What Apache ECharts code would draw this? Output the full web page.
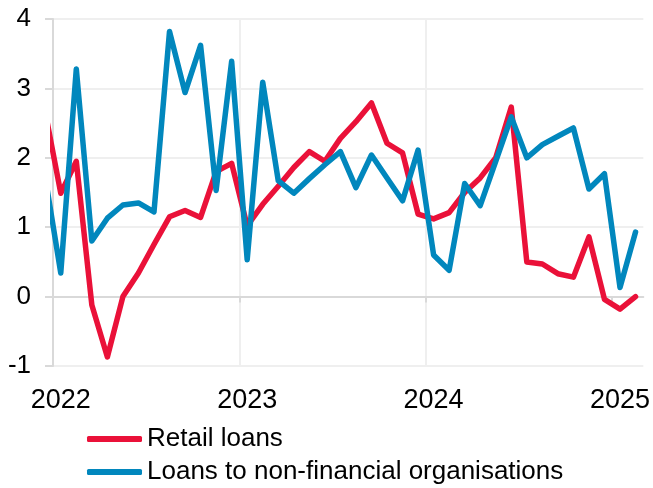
<!DOCTYPE html>
<html><head><meta charset="utf-8">
<script src="https://cdn.jsdelivr.net/npm/echarts@6/dist/echarts.min.js"></script>
<style>html,body{margin:0;padding:0;background:#fff}#c{width:653px;height:488px}</style>
</head><body><div id="c"></div>
<script>
// Monthly observations, Dec 2021 (clipped at the axis start) .. Feb 2025
const months = ['2021-12',
  '2022-01','2022-02','2022-03','2022-04','2022-05','2022-06','2022-07','2022-08','2022-09','2022-10','2022-11','2022-12',
  '2023-01','2023-02','2023-03','2023-04','2023-05','2023-06','2023-07','2023-08','2023-09','2023-10','2023-11','2023-12',
  '2024-01','2024-02','2024-03','2024-04','2024-05','2024-06','2024-07','2024-08','2024-09','2024-10','2024-11','2024-12',
  '2025-01','2025-02'];
const retail = [2.66,
  1.49,1.95,-0.12,-0.87,0.0,0.34,0.75,1.15,1.24,1.14,1.80,1.92,
  1.02,1.33,1.59,1.86,2.09,1.95,2.28,2.52,2.79,2.21,2.07,1.19,
  1.12,1.21,1.50,1.71,2.00,2.73,0.50,0.47,0.33,0.28,0.86,-0.04,
  -0.18,0.0];
const corporate = [1.72,
  0.34,3.28,0.80,1.13,1.32,1.35,1.22,3.82,2.94,3.62,1.53,3.39,
  0.53,3.09,1.67,1.49,1.70,1.90,2.09,1.57,2.04,1.71,1.38,2.11,
  0.60,0.38,1.63,1.31,1.95,2.59,2.00,2.19,2.31,2.43,1.55,1.77,
  0.13,0.93];
const seriesNames = ['Retail loans', 'Loans to non-financial organisations'];
const yMin = -1, yMax = 4, yStep = 1;
const yearTicks = [0, 12, 24, 36];

const FONT = '"Liberation Sans", Arial, sans-serif';
const toXY = arr => arr.map((v, i) => [i - 0.5, v]);
const axisMonths = months.slice(1);

const chart = echarts.init(document.getElementById('c'), null, {renderer: 'canvas'});
chart.setOption({
  animation: false,
  backgroundColor: '#fff',
  textStyle: {fontFamily: FONT},
  grid: {left: 53, right: 6, top: 19, bottom: 122, containLabel: false},
  legend: {
    orient: 'vertical', left: 87, top: 426, height: 62, padding: 0, itemGap: 7,
    itemWidth: 55, itemHeight: 6, icon: 'roundRect',
    textStyle: {fontSize: 26, color: '#000', fontFamily: FONT, lineHeight: 26},
    data: seriesNames
  },
  xAxis: [{
    type: 'value', min: 0, max: axisMonths.length, interval: 12,
    axisLine: {show: true, onZero: true, lineStyle: {color: '#d9d9d9', width: 2}},
    axisTick: {show: true, inside: false, length: 6, customValues: yearTicks, lineStyle: {color: '#d9d9d9', width: 2}},
    axisLabel: {show: false},
    splitLine: {show: true, showMinLine: false, showMaxLine: false, lineStyle: {color: '#efefef', width: 2}}
  }, {
    type: 'category', data: axisMonths, boundaryGap: true, position: 'bottom',
    axisLine: {show: false, onZero: false}, axisTick: {show: false}, splitLine: {show: false},
    axisLabel: {
      interval: (i, v) => v.endsWith('-01'),
      formatter: v => v.slice(0, 4),
      fontSize: 27, color: '#000', fontFamily: FONT, margin: 21
    }
  }],
  yAxis: {
    type: 'value', min: yMin, max: yMax, interval: yStep,
    axisLine: {show: true, onZero: false, lineStyle: {color: '#d9d9d9', width: 2}},
    axisTick: {show: true, length: 8, lineStyle: {color: '#d9d9d9', width: 2}},
    axisLabel: {fontSize: 26, color: '#000', fontFamily: FONT, margin: 22},
    splitLine: {show: true, lineStyle: {color: '#efefef', width: 2}}
  },
  series: [{
    name: seriesNames[0], type: 'line', xAxisIndex: 0, data: toXY(retail),
    symbol: 'none', clip: true, color: '#ea1139',
    lineStyle: {width: 5.5, color: '#ea1139', cap: 'round', join: 'round'}
  }, {
    name: seriesNames[1], type: 'line', xAxisIndex: 0, data: toXY(corporate),
    symbol: 'none', clip: true, color: '#0187bd',
    lineStyle: {width: 5.5, color: '#0187bd', cap: 'round', join: 'round'}
  }]
});
</script>
</body></html>
